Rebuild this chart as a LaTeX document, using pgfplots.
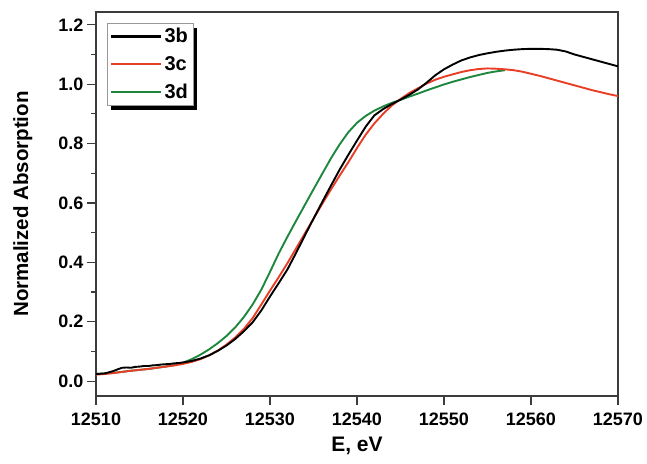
\documentclass[border=0pt]{standalone}
\usepackage{fontspec}
\setmainfont{Liberation Sans}
\usepackage{pgfplots}
\pgfplotsset{compat=1.18}
\usetikzlibrary{backgrounds}

\definecolor{cb}{RGB}{0,0,0}
\definecolor{cc}{RGB}{232,62,38}
\definecolor{cd}{RGB}{30,135,62}
\definecolor{axgray}{RGB}{60,60,60}

\pgfplotstableread{
E A
12510 0.024
12510.5 0.025
12511 0.026
12511.5 0.030
12512 0.034
12512.5 0.040
12513 0.045
12513.5 0.046
12514 0.045
12514.5 0.048
12515 0.049
12515.5 0.051
12516 0.051
12516.5 0.053
12517 0.054
12517.5 0.056
12518 0.057
12518.5 0.058
12519 0.060
12519.5 0.061
12520 0.063
12521 0.068
12522 0.076
12523 0.087
12524 0.102
12525 0.120
12526 0.142
12527 0.168
12528 0.198
12529 0.238
12530 0.285
12531 0.330
12532 0.376
12533 0.432
12534 0.490
12535 0.547
12536 0.603
12537 0.658
12538 0.712
12539 0.762
12540 0.810
12541 0.857
12542 0.895
12543 0.916
12544 0.933
12545 0.948
12546 0.964
12547 0.982
12548 1.005
12549 1.030
12550 1.050
12551 1.066
12552 1.080
12553 1.090
12554 1.098
12555 1.104
12556 1.109
12557 1.113
12558 1.116
12559 1.118
12560 1.119
12561 1.119
12562 1.118
12563 1.116
12564 1.110
12565 1.100
12566 1.092
12567 1.084
12568 1.076
12569 1.068
12570 1.060
}\tbb

\pgfplotstableread{
E A
12510 0.022
12511 0.024
12512 0.027
12513 0.031
12514 0.035
12515 0.038
12516 0.041
12517 0.045
12518 0.049
12519 0.053
12520 0.058
12521 0.065
12522 0.074
12523 0.087
12524 0.103
12525 0.123
12526 0.147
12527 0.176
12528 0.212
12529 0.258
12530 0.305
12531 0.350
12532 0.397
12533 0.447
12534 0.497
12535 0.547
12536 0.597
12537 0.645
12538 0.692
12539 0.737
12540 0.785
12541 0.830
12542 0.868
12543 0.900
12544 0.928
12545 0.950
12546 0.970
12547 0.986
12548 1.002
12549 1.015
12550 1.025
12551 1.033
12552 1.041
12553 1.047
12554 1.051
12555 1.053
12556 1.052
12557 1.050
12558 1.047
12559 1.042
12560 1.035
12561 1.028
12562 1.020
12563 1.012
12564 1.004
12565 0.996
12566 0.988
12567 0.980
12568 0.973
12569 0.966
12570 0.960
}\tbc

\pgfplotstableread{
E A
12510 0.024
12512 0.028
12514 0.035
12516 0.041
12518 0.049
12519 0.054
12520 0.062
12521 0.074
12522 0.089
12523 0.107
12524 0.128
12525 0.152
12526 0.181
12527 0.216
12528 0.258
12529 0.308
12530 0.368
12531 0.430
12532 0.486
12533 0.540
12534 0.593
12535 0.646
12536 0.698
12537 0.750
12538 0.797
12539 0.838
12540 0.870
12541 0.893
12542 0.911
12543 0.925
12544 0.937
12545 0.947
12546 0.958
12547 0.968
12548 0.979
12549 0.989
12550 0.999
12551 1.008
12552 1.016
12553 1.024
12554 1.031
12555 1.038
12556 1.043
12557 1.047
}\tbd

\begin{document}
\begin{tikzpicture}
\begin{axis}[
    name=ax,
    at={(0,0)}, anchor=south west,
    scale only axis,
    width=522pt, height=384pt,
    xmin=12510, xmax=12570,
    ymin=-0.05, ymax=1.243,
    xtick={12510,12520,...,12570},
    ytick={0,0.2,...,1.2},
    minor x tick num=1,
    minor y tick num=1,
    xtick pos=left, ytick pos=left,
    tick align=outside,
    major tick length=9pt,
    minor tick length=5pt,
    every tick/.style={axgray, line width=1.2pt},
    axis line style={axgray, line width=1.3pt},
    scaled x ticks=false,
    /pgf/number format/assume math mode=true,
    /pgf/number format/1000 sep={},
    xticklabel style={/pgf/number format/fixed, /pgf/number format/precision=0, yshift=-4pt},
    yticklabel style={/pgf/number format/fixed, /pgf/number format/fixed zerofill, /pgf/number format/precision=1},
    tick label style={font=\fontsize{18}{18}\selectfont\bfseries},
    xlabel={E, eV},
    ylabel={Normalized Absorption},
    xlabel style={font=\fontsize{21}{22}\selectfont\bfseries, at={(rel axis cs:0.5,-0.13)}, anchor=center},
    ylabel style={font=\fontsize{20.5}{22}\selectfont\bfseries, at={(rel axis cs:-0.14,0.5)}, anchor=center},
    legend style={name=leg, at={(rel axis cs:0.021,0.971)}, anchor=north west,
        draw=gray!80, fill=white,
        font=\fontsize{20}{20}\selectfont\bfseries,
        row sep=8pt, inner sep=3pt},
    legend cell align=left,
    legend image code/.code={\draw[#1, line width=2.4pt] (0pt,0pt) -- (50pt,0pt);},
    reverse legend,
    every axis plot/.append style={line width=1.9pt},
]
\addplot[cd] table[x=E, y=A] {\tbd};
\addlegendentry{3d}
\addplot[cc] table[x=E, y=A] {\tbc};
\addlegendentry{3c}
\addplot[cb] table[x=E, y=A] {\tbb};
\addlegendentry{3b}
\end{axis}
\begin{pgfonlayer}{background}
\fill[black] ([shift={(4pt,-5pt)}]leg.south west) rectangle ([shift={(4pt,-5pt)}]leg.north east);
\end{pgfonlayer}
\pgfresetboundingbox
\path (-96pt,-67pt) rectangle (551pt,396pt);
\end{tikzpicture}
\end{document}
